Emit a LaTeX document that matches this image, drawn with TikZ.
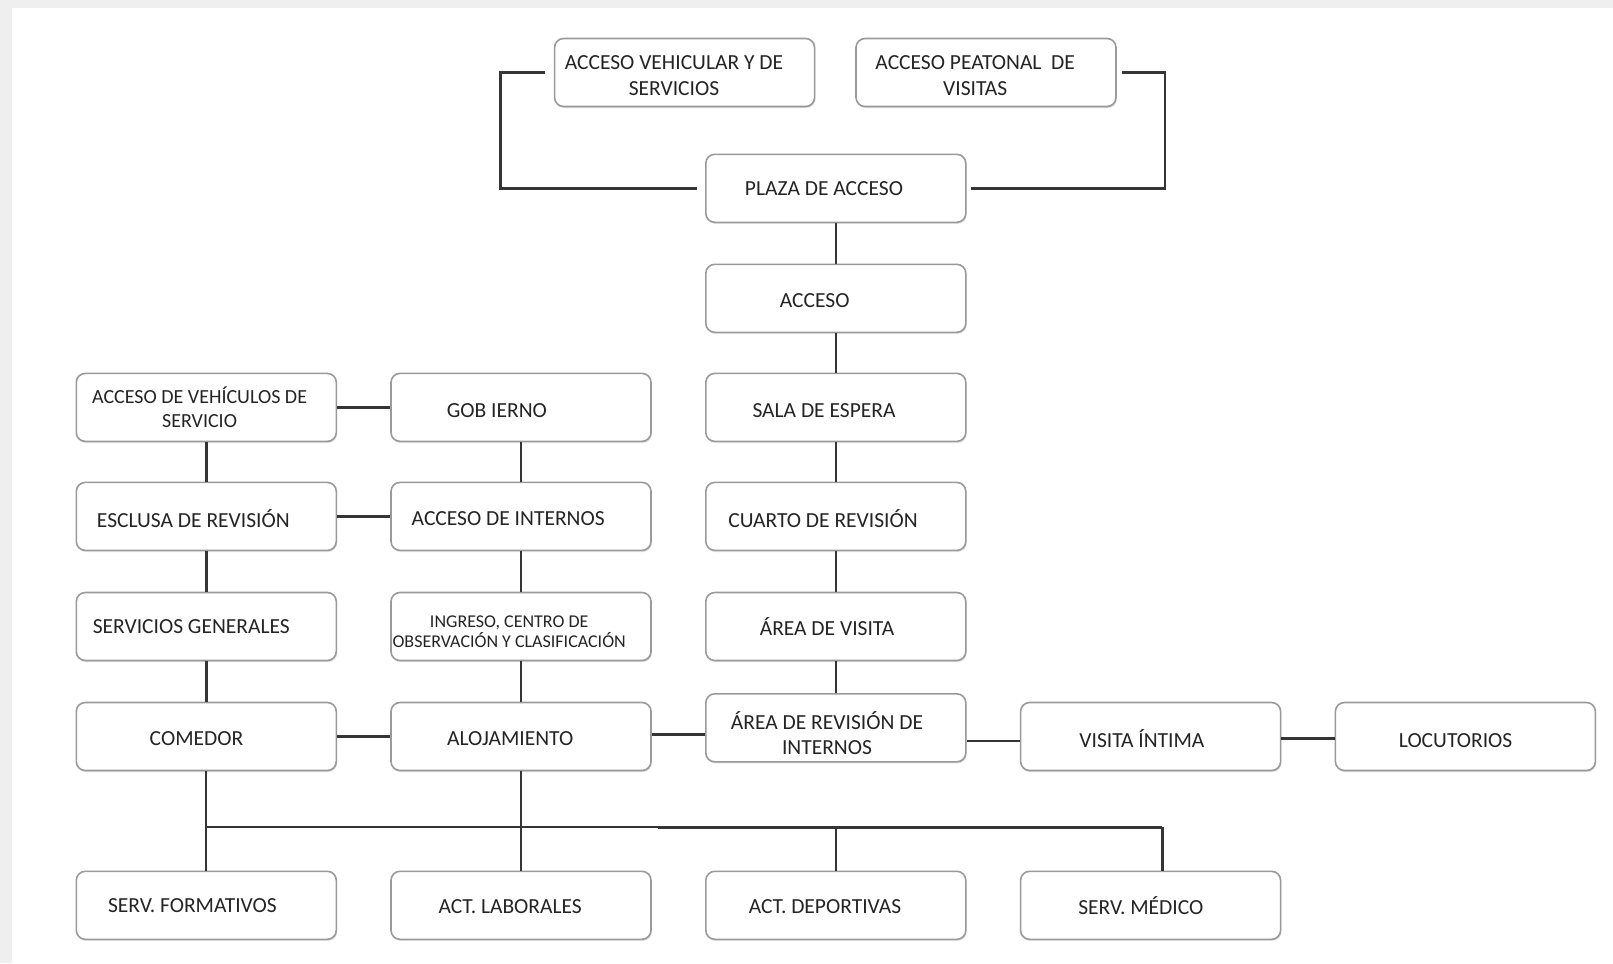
\documentclass[tikz,border=0pt]{standalone}
\usepackage{fontspec}
\setmainfont{Carlito}
\usetikzlibrary{shadows}
\definecolor{boxline}{HTML}{9A9A9A}
\definecolor{connc}{HTML}{353535}
\definecolor{txt}{HTML}{242424}
\definecolor{outerbg}{HTML}{EFEFEF}
\begin{document}
\begin{tikzpicture}[x=1pt,y=-1pt,
 box/.style={draw=boxline, line width=1.6pt, rounded corners=9pt, fill=white,
   minimum width=260pt, minimum height=68pt, inner sep=0pt,
   drop shadow={shadow xshift=0.8pt, shadow yshift=-1.6pt, opacity=0.35, fill=gray!70}},
 lbl/.style={text=txt, font=\fontsize{21.5}{25.7}\selectfont, align=center, inner sep=0pt},
 smalllbl/.style={lbl, font=\fontsize{20}{24}\selectfont},
 tinylbl/.style={lbl, font=\fontsize{18}{20.5}\selectfont},
 conn/.style={draw=connc, line width=2.4pt},
]
% background
\fill[outerbg] (0,0) rectangle (1613,963);
\fill[white] (12,8) rectangle (1613,963);
\useasboundingbox (0,0) rectangle (1613,963);

% top
\node[box] (vehic) at (684.6,72.5) {};
\node[lbl] (tvehic) at (674,75.6) {ACCESO VEHICULAR Y DE\\SERVICIOS};
\node[box] (peat) at (986,72.5) {};
\node[lbl] (tpeat) at (975.2,75.6) {ACCESO PEATONAL\ \ DE\\VISITAS};

% column 3
\node[box] (plaza) at (835.8,188.3) {};
\node[lbl] (tplaza) at (824,188.3) {PLAZA DE ACCESO};
\node[box] (acceso) at (835.8,298.3) {};
\node[lbl] (tacceso) at (814.7,300.4) {ACCESO};
\node[box] (sala) at (835.8,407.4) {};
\node[lbl] (tsala) at (824,410.5) {SALA DE ESPERA};
\node[box] (cuarto) at (835.8,516.4) {};
\node[lbl] (tcuarto) at (823,518.5) {CUARTO\ DE REVISIÓN};
\node[box] (visita) at (835.8,626.5) {};
\node[lbl] (tvisita) at (827,626.5) {ÁREA\ DE VISITA};
\node[box] (arearev) at (835.8,727.8) {};
\node[lbl] (tarearev) at (827,733) {ÁREA\ DE REVISIÓN\ DE\\INTERNOS};

% column 4, 5
\node[box] (intima) at (1150.6,736.5) {};
\node[lbl] (tintima) at (1141.9,738.6) {VISITA ÍNTIMA};
\node[box] (locut) at (1465.4,736.5) {};
\node[lbl] (tlocut) at (1455.6,740.7) {LOCUTORIOS};

% column 1
\node[box] (accveh) at (206.3,407.4) {};
\node[smalllbl] (taccveh) at (199.6,407.4) {ACCESO DE VEHÍCULOS DE\\SERVICIO};
\node[box] (esclusa) at (206.3,516.4) {};
\node[lbl] (tesclusa) at (193.4,518.5) {ESCLUSA DE REVISIÓN};
\node[box] (servgen) at (206.3,626.5) {};
\node[lbl] (tservgen) at (191.3,626.5) {SERVICIOS GENERALES};
\node[box] (comedor) at (206.3,736.5) {};
\node[lbl] (tcomedor) at (196.5,738.6) {COMEDOR};

% column 2
\node[box] (gob) at (521,407.4) {};
\node[lbl] (tgob) at (496.9,410.5) {GOB IERNO};
\node[box] (accint) at (521,516.4) {};
\node[lbl] (taccint) at (508.2,518.5) {ACCESO DE INTERNOS};
\node[box] (ingreso) at (521,626.5) {};
\node[tinylbl] (tingreso) at (509.2,631.6) {INGRESO, CENTRO DE\\OBSERVACIÓN Y CLASIFICACIÓN};
\node[box] (aloj) at (521,736.5) {};
\node[lbl] (taloj) at (510.2,738.6) {ALOJAMIENTO};

% bottom row
\node[box] (formativos) at (206.3,905.3) {};
\node[lbl] (tformativos) at (192.4,905.3) {SERV.\ FORMATIVOS};
\node[box] (laborales) at (521,905.3) {};
\node[lbl] (tlaborales) at (510.2,906.3) {ACT.\ LABORALES};
\node[box] (deportivas) at (835.8,905.3) {};
\node[lbl] (tdeportivas) at (825,906.3) {ACT.\ DEPORTIVAS};
\node[box] (medico) at (1150.6,905.3) {};
\node[lbl] (tmedico) at (1140.8,905.3) {SERV.\ MÉDICO};

% connectors: top brackets
\draw[conn, shorten <=9pt, shorten >=8pt] (vehic.west) -- ++(-53.5,0) |- (plaza.west);
\draw[conn, shorten <=5pt, shorten >=4pt] (peat.east) -- ++(48.4,0) |- (plaza.east);

% column 3 chain
\draw[conn] (plaza.south) -- (acceso.north);
\draw[conn] (acceso.south) -- (sala.north);
\draw[conn] (sala.south) -- (cuarto.north);
\draw[conn] (cuarto.south) -- (visita.north);
\draw[conn] (visita.south) -- (arearev.north);

% column 1 chain
\draw[conn] (accveh.south) -- (esclusa.north);
\draw[conn] (esclusa.south) -- (servgen.north);
\draw[conn] (servgen.south) -- (comedor.north);

% column 2 chain
\draw[conn] (gob.south) -- (accint.north);
\draw[conn] (accint.south) -- (ingreso.north);
\draw[conn] (ingreso.south) -- (aloj.north);

% horizontals
\draw[conn] (accveh.east) -- (gob.west);
\draw[conn] (esclusa.east) -- (accint.west);
\draw[conn] (comedor.east) -- (aloj.west);
\draw[conn] ([yshift=2pt]aloj.east) -- ([yshift=2pt]aloj.east -| arearev.west);
\draw[conn] ([yshift=-13pt]arearev.east) -- ([yshift=-13pt]arearev.east -| intima.west);
\draw[conn] ([yshift=-2pt]intima.east) -- ([yshift=-2pt]intima.east -| locut.west);

% bottom bus
\coordinate (busL) at (206.3,827);
\coordinate (busM) at (658,827);
\coordinate (busR) at (1162.4,827);
\draw[conn, line width=2.1pt] (comedor.south) -- (formativos.north);
\draw[conn, line width=2.1pt] (aloj.south) -- (laborales.north);
\draw[conn, line width=2.1pt] (busL) -- (busM);
\draw[conn, line width=3pt] (busM) -- (busR);
\draw[conn, line width=2.4pt] (busR) -- (busR |- medico.north);
\draw[conn, line width=2.1pt] (deportivas.north |- busR) -- (deportivas.north);
\end{tikzpicture}
\end{document}
